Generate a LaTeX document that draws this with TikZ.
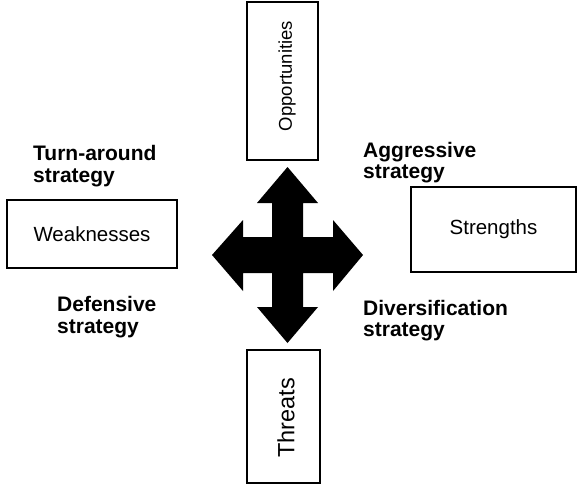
\documentclass[tikz,border=0pt]{standalone}
\usepackage{fontspec}
\setmainfont{Liberation Sans}
\begin{document}
\begin{tikzpicture}[x=1pt,y=-1pt,
  box/.style={draw=black,line width=1.2pt,inner sep=0pt,font=\fontsize{20.5}{24}\selectfont},
  strat/.style={anchor=base west,align=left,inner sep=0pt,font=\fontsize{21}{21.5}\selectfont\bfseries}]
\useasboundingbox (0,0) rectangle (578,485);
% boxes
\node[box,minimum width=71pt,minimum height=158pt] (opp) at (282.5,81) {};
\node[rotate=90,font=\fontsize{18.5}{22}\selectfont] (opptext) at (287,76) {Opportunities};
\node[box,minimum width=73pt,minimum height=133pt] (thr) at (283.5,416.5) {};
\node[rotate=90,font=\fontsize{23.5}{26}\selectfont] (thrtext) at (286,418) {Threats};
\node[box,minimum width=170pt,minimum height=68pt] (weak) at (92,234) {Weaknesses};
\node[box,minimum width=165pt,minimum height=85pt] (str) at (493.5,229.5) {Strengths};
% strategy labels (anchor at baseline of last line)
\node[strat] (turn) at (33,182) {Turn-around\\strategy};
\node[strat] (aggr) at (363,178.5) {Aggressive\\strategy};
\node[strat] (def) at (57,333) {Defensive\\strategy};
\node[strat] (div) at (363,336.5) {Diversification\\strategy};
% four-way arrow
\fill[black] (287.5,167) -- (318,203) -- (303,203) -- (303,237) -- (333,237) -- (333,220)
  -- (363,255) -- (333,291) -- (333,273) -- (303,273) -- (303,307) -- (318,307)
  -- (287.5,343) -- (257,307) -- (272,307) -- (272,273) -- (243,273) -- (243,291)
  -- (212,255) -- (243,220) -- (243,237) -- (272,237) -- (272,203) -- (257,203) -- cycle;
\end{tikzpicture}
\end{document}
